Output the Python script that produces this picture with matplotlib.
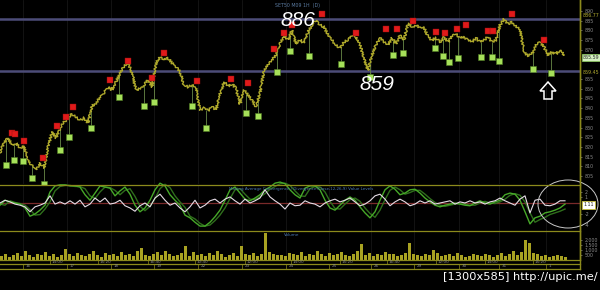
import matplotlib
matplotlib.use("Agg")
import matplotlib.pyplot as plt
import numpy as np
from matplotlib.patches import Polygon, Ellipse

W, H = 600, 290

# palette
OLIVE = "#8c8a1c"
PRICE_C = "#b0aa2c"
RED = "#e01a1a"
GREEN = "#a6e05a"
LEVEL = "#4c4c78"
GREY = "#8a8a8a"
BLUE_TXT = "#4a78b0"

# ---- data -------------------------------------------------------------
price = [816.9, 822.5, 824.6, 821.0, 822.0, 819.4, 820.5, 813.3, 810.2, 808.1,
         811.7, 809.1, 820.0, 827.7, 824.6, 829.7, 832.8, 834.9, 837.0, 835.4,
         833.9, 834.9, 832.3, 841.1, 842.6, 845.7, 847.8, 850.9, 849.3, 853.4,
         858.1, 861.7, 863.2, 858.1, 849.3, 850.3, 851.9, 854.5, 850.9, 863.2,
         866.3, 864.8, 865.8, 863.2, 861.2, 858.6, 851.9, 850.9, 851.9, 850.3,
         839.0, 840.0, 838.5, 840.6, 839.0, 847.3, 853.4, 851.4, 852.4, 850.3,
         842.1, 849.3, 846.7, 844.2, 840.6, 847.8, 859.6, 862.2, 864.8, 867.3,
         873.0, 877.6, 875.1, 880.2, 873.0, 875.1, 873.5, 879.2, 882.8, 885.5,
         882.8, 881.8, 877.6, 875.1, 872.5, 870.9, 874.0, 875.1, 877.1, 876.6,
         872.5, 865.8, 859.5, 867.3, 872.5, 876.1, 874.0, 872.5, 876.1, 873.0,
         877.6, 875.1, 883.8, 881.8, 882.8, 881.2, 881.8, 876.6, 875.1, 876.1,
         874.0, 876.6, 874.0, 877.1, 878.2, 876.1, 876.6, 875.1, 874.0, 876.1,
         874.0, 875.1, 876.6, 874.0, 875.1, 882.8, 885.8, 883.3, 884.3, 882.3,
         880.2, 868.9, 866.8, 867.9, 872.5, 874.0, 871.5, 867.3, 868.9, 867.9,
         869.9, 867.3]

# sell / buy signal markers (time, price)
red_t = [12, 15, 24, 43, 57, 66, 73, 110, 128, 152, 164, 197, 231, 248, 274,
         284, 292, 322, 356, 386, 397, 413, 436, 445, 457, 466, 488, 493, 512, 544]
red_p = [827.2, 826.7, 823.0, 814.3, 830.8, 835.4, 840.6, 854.5, 864.3, 855.5,
         868.4, 854.0, 855.0, 852.9, 870.4, 878.7, 882.8, 888.5, 878.7, 880.7,
         880.7, 884.9, 879.2, 878.7, 880.7, 882.8, 879.7, 879.7, 888.5, 875.1]
green_t = [6, 14, 23, 32, 44, 60, 69, 91, 119, 144, 154, 192, 206, 246, 258, 277,
           290, 309, 341, 370, 393, 403, 435, 443, 449, 458, 481, 492, 499, 533, 551]
green_p = [810.7, 813.3, 812.8, 804.0, 800.9, 818.4, 825.1, 829.7, 845.7, 841.1,
           843.1, 841.1, 829.7, 837.5, 835.9, 858.6, 869.4, 866.8, 862.7, 856.0,
           867.3, 868.4, 870.9, 866.8, 863.7, 865.8, 866.3, 866.3, 864.3, 860.1, 858.1]

levels = [886, 859]
price_ticks = [805, 810, 815, 820, 825, 830, 835, 840, 845, 850, 855,
               870, 875, 880, 885, 890]

macd = [-0.4, 0.5, 0.2, 0.0, -0.2, -0.9, -2.4, -2.0, -1.3, -0.4,
        2.0, 3.1, 3.3, 3.3, 3.1, 3.1, 2.9, 1.5, 0.5, 1.8,
        3.1, 2.9, 2.7, 1.3, 2.2, 2.9, 1.6, -0.4, -1.6, -0.9,
        0.5, 2.4, 3.6, 3.1, 1.5, 0.5, -0.4, -2.2, -2.7, -3.5,
        -4.2, -4.2, -3.5, -2.5, -1.3, 0.5, 2.4, 2.9, 1.8, 0.7,
        0.4, 0.9, 1.5, 2.4, 2.9, 3.6, 3.8, 3.5, 2.4, 1.5,
        0.9, 2.7, 3.1, 3.1, 2.4, 0.5, -0.9, -1.3, -0.4, 0.5,
        1.1, 0.5, -0.7, -1.8, -2.7, -1.6, 0.5, 2.4, 3.1, 2.5,
        1.5, 1.8, 2.4, 2.5, 1.8, 0.9, 0.2, -0.4, -0.7, -0.4,
        -0.2, 0.0, -0.2, -0.4, -0.5, 0.0, 0.4, 0.0, -0.2, 0.2,
        0.5, 1.5, 1.8, 1.6, 0.5, -1.6, -3.8, -2.7, -2.4, -1.8,
        -1.6, -1.3, -0.9, -0.2]
signal = [-0.2, -0.4, 0.4, 0.1, -0.1, -0.4, -1.2, -2.2, -2.1, -1.1,
          0.2, 2.2, 3.0, 3.2, 3.2, 3.0, 3.0, 2.6, 1.3, 0.8,
          2.0, 2.9, 2.8, 2.3, 1.5, 2.3, 2.6, 1.2, -0.6, -1.4,
          -0.6, 0.8, 2.6, 3.4, 2.8, 1.3, 0.2, -0.8, -2.4, -2.9,
          -3.7, -4.2, -4.0, -3.2, -2.2, -0.9, 0.8, 2.4, 2.6, 1.6,
          0.7, 0.6, 1.1, 1.7, 2.5, 3.0, 3.5, 3.6, 3.2, 2.2,
          1.3, 1.2, 2.6, 3.0, 2.9, 2.0, 0.3, -1.0, -1.1, -0.2,
          0.6, 0.9, 0.3, -0.9, -1.9, -2.6, -1.3, 0.6, 2.3, 2.9,
          2.4, 1.6, 1.9, 2.3, 2.3, 1.6, 0.8, 0.1, -0.4, -0.6,
          -0.4, -0.2, -0.1, -0.2, -0.4, -0.4, 0.0, 0.3, 0.0, -0.1,
          0.2, 0.7, 1.4, 1.7, 1.4, 0.2, -1.8, -3.5, -3.0, -2.6,
          -2.1, -1.8, -1.5, -1.1]
hist = [0.0, 0.5, 0.2, -0.2, -0.4, -0.7, -1.6, -0.7, -0.4, 0.0,
        1.3, -0.2, 0.2, -0.2, 0.4, -0.2, 0.5, -0.7, -0.2, 0.9,
        0.2, 0.9, -0.2, 0.0, 0.5, -0.5, -0.9, -1.5, -0.5, 0.0,
        -0.7, 0.9, 1.6, 0.5, -0.4, 0.0, -0.9, -1.6, -0.7, 0.5,
        -0.9, -0.4, 0.4, 0.7, 0.0, 0.7, 1.1, 0.4, -0.2, 0.7,
        0.0, 0.4, 0.9, 2.4, 1.1, 0.4, -0.2, -1.1, 0.0, -0.5,
        -0.4, 0.4, 0.0, -0.2, -0.7, 0.0, 0.4, 0.7, 0.2, 0.5,
        0.9, 0.2, -0.5, -0.2, 0.4, 1.3, 1.6, 0.7, -0.5, 0.2,
        0.7, 0.2, -0.5, -0.2, 0.4, 0.0, 0.4, -0.2, 0.0, 0.2,
        0.4, -0.2, 0.2, 0.0, 0.4, 0.0, 0.2, -0.2, 0.2, 0.4,
        0.9, 0.4, 0.0, -0.4, 0.7, 1.3, -1.8, 0.5, 0.7, -0.4,
        -0.5, -0.2, 0.4, 0.4]
osc_ticks = [-4, -2, 1, 2]

volume = [4, 6, 3, 5, 7, 4, 9, 5, 3, 6,
          5, 8, 4, 6, 3, 5, 11, 6, 4, 7,
          5, 4, 6, 9, 5, 3, 7, 5, 6, 4,
          8, 5, 6, 4, 9, 12, 5, 4, 6, 8,
          5, 9, 6, 4, 5, 7, 14, 4, 8, 5,
          6, 4, 7, 5, 9, 6, 3, 5, 7, 4,
          14, 6, 5, 7, 4, 6, 27, 8, 6, 5,
          5, 4, 7, 6, 5, 8, 4, 6, 5, 9,
          6, 4, 7, 5, 6, 8, 5, 4, 6, 9,
          16, 5, 7, 4, 6, 5, 8, 6, 6, 4,
          5, 7, 17, 6, 5, 4, 6, 5, 10, 7,
          4, 5, 6, 4, 7, 5, 3, 4, 6, 5,
          4, 6, 5, 3, 5, 7, 4, 6, 9, 5,
          8, 20, 17, 7, 6, 4, 5, 3, 4, 5,
          4, 3]
vol_ticks = [500, 1000, 1500, 2000]

date_pos = [23, 67, 111, 154, 198, 242, 286, 329, 371, 414, 459, 499, 546]
date_lbl = ["16", "17", "18", "19", "22", "23", "24", "25", "26", "29", "30", "31", "1"]
time_pos = [50, 98, 148, 195, 245, 291, 340, 387, 436, 485, 533]
time_lbl = ["14:00", "15:20", "16:40", "10:40", "12:00", "14:00", "15:20",
            "16:40", "12:00", "14:00", "15:20"]


# ---- layout helpers (pixel -> figure fraction) -------------------------
def fx(px):
    return px / W


def fy(py):
    return 1 - py / H


t_price = np.arange(len(price)) * 4
t_osc = np.arange(len(macd)) * 5
t_sig = np.arange(len(signal)) * 5
t_hist = np.arange(len(hist)) * 5
t_vol = np.arange(len(volume)) * 4

fig = plt.figure(figsize=(W / 100, H / 100), dpi=100, facecolor="black")

ax_p = fig.add_axes([0, fy(184), fx(580), 184 / H])
ax_o = fig.add_axes([0, fy(231), fx(580), 46 / H])
ax_v = fig.add_axes([0, fy(260), fx(580), 28 / H])

for ax in (ax_p, ax_o, ax_v):
    ax.set_facecolor("black")
    ax.set_xlim(0, 580)
    for s in ("top", "left", "bottom"):
        ax.spines[s].set_visible(False)
    ax.spines["right"].set_color(OLIVE)
    ax.spines["right"].set_linewidth(1.0)
    ax.yaxis.tick_right()
    ax.tick_params(axis="y", colors=GREY, labelsize=3.4, length=1.5,
                   width=0.5, pad=2)
    ax.set_xticks([])
    for p in date_pos:
        ax.axvline(p, color="#161616", lw=0.6, zorder=0)

# ---- price panel -------------------------------------------------------
ax_p.set_ylim(800.9, 895.7)
ax_p.set_yticks(price_ticks)
ax_p.set_yticklabels([str(v) for v in price_ticks])
for lv in levels:
    ax_p.axhline(lv, color=LEVEL, lw=1.8, zorder=1)

line, = ax_p.plot(t_price, price, color=PRICE_C, lw=1.0, zorder=3)
line.set_sketch_params(scale=1.2, length=3, randomness=2)

stem_top = np.interp(green_t, t_price, price)
ax_p.vlines(green_t, green_p, stem_top, color="#6a8a48", lw=0.6, zorder=2)
ax_p.scatter(green_t, green_p, marker="s", s=16, color=GREEN,
             edgecolors="#4f7a22", linewidths=0.4, zorder=5, clip_on=False)
ax_p.scatter(red_t, red_p, marker="s", s=16, color=RED,
             edgecolors="#901010", linewidths=0.3, zorder=5, clip_on=False)

# right-hand value boxes
ax_p.text(583, 887.6, "886.77", color="#b0aa30", fontsize=3.4,
          va="center", ha="left", clip_on=False)
ax_p.text(583, 866.0, "865.59", color="#303030", fontsize=3.4,
          va="center", ha="left", clip_on=False,
          bbox=dict(boxstyle="square,pad=0.25", fc="#d4f0c0", ec="#90d060", lw=0.5))
ax_p.text(583, 858.6, "859.45", color="#b0aa30", fontsize=3.4,
          va="center", ha="left", clip_on=False,
          bbox=dict(boxstyle="square,pad=0.1", fc="black", ec="none"))

# ---- oscillator panel --------------------------------------------------
ax_o.set_ylim(-5.09, 3.27)
ax_o.set_yticks(osc_ticks)
ax_o.set_yticklabels([str(v) for v in osc_ticks])
ax_o.axhline(0, color="#7a2a2a", lw=0.9, zorder=1)
ax_o.plot(t_sig, signal, color="#2f6e1c", lw=1.0, zorder=2, clip_on=False)
ax_o.plot(t_osc, macd, color="#46a828", lw=1.0, zorder=3, clip_on=False)
ax_o.plot(t_hist, hist, color="#e6dce6", lw=0.8, zorder=4)
ax_o.text(583, -0.3, "1.11", color="#202020", fontsize=3.4, va="center",
          ha="left", clip_on=False,
          bbox=dict(boxstyle="square,pad=0.3", fc="white", ec="#c8c040", lw=0.6))

# ---- volume panel ------------------------------------------------------
ax_v.set_ylim(0, 2800)
ax_v.set_yticks(vol_ticks)
ax_v.set_yticklabels([f"{v:,}" for v in vol_ticks])
ax_v.bar(t_vol, np.array(volume) * 100, width=3.2, color="#a8a222",
         edgecolor="none", align="edge")

# ---- frame lines across the figure -------------------------------------
for py in (185, 231, 260, 264, 268.5):
    fig.add_artist(plt.Line2D([0, fx(580)], [fy(py), fy(py)], color=OLIVE,
                              lw=0.9, transform=fig.transFigure))
fig.add_artist(plt.Line2D([fx(580), fx(580)], [fy(0), fy(268.5)], color=OLIVE,
                          lw=1.0, transform=fig.transFigure))

for p, lbl in zip(time_pos, time_lbl):
    fig.add_artist(plt.Line2D([fx(p), fx(p)], [fy(260), fy(264)], color=OLIVE,
                              lw=0.5, transform=fig.transFigure))
    fig.text(fx(p + 2), fy(262), lbl, color=GREY, fontsize=3.0, va="center")
for p, lbl in zip(date_pos, date_lbl):
    fig.add_artist(plt.Line2D([fx(p), fx(p)], [fy(264), fy(268.5)], color=OLIVE,
                              lw=0.5, transform=fig.transFigure))
    fig.text(fx(p + 3), fy(266.3), lbl, color=GREY, fontsize=3.0, va="center")

# ---- captions -----------------------------------------------------------
fig.text(fx(275), fy(5), "SET50 M09 1H  (D)", color="#5a7aa0", fontsize=3.4,
         va="center")
fig.text(fx(229), fy(189),
         "Moving Average Convergence / Divergence(Close,12,26,9) Value Levels",
         color=BLUE_TXT, fontsize=2.9, va="center")
fig.text(fx(284), fy(235), "Volume", color=BLUE_TXT, fontsize=3.0, va="center")

fig.text(fx(298), fy(20), "886", color="white", fontsize=15, style="italic",
         family="Liberation Sans", ha="center", va="center")
fig.text(fx(377), fy(84), "859", color="white", fontsize=15, style="italic",
         family="Liberation Sans", ha="center", va="center")

# hollow up arrow
arrow_px = [(548, 82), (556, 91), (552, 91), (552, 99), (544, 99), (544, 91), (540, 91)]
fig.add_artist(Polygon([(fx(x), fy(y)) for x, y in arrow_px], closed=True,
                       fc="none", ec="white", lw=1.1, transform=fig.transFigure))

# ellipse around the latest MACD swing
fig.add_artist(Ellipse((fx(568), fy(204)), 60 / W, 48 / H, fc="none",
                       ec="#c8c8c8", lw=0.7, transform=fig.transFigure))

fig.text(fx(598), fy(277), "[1300x585] http://upic.me/", color="white",
         fontsize=8.2, ha="right", va="center")

fig.savefig("out.png", dpi=100, facecolor="black")
